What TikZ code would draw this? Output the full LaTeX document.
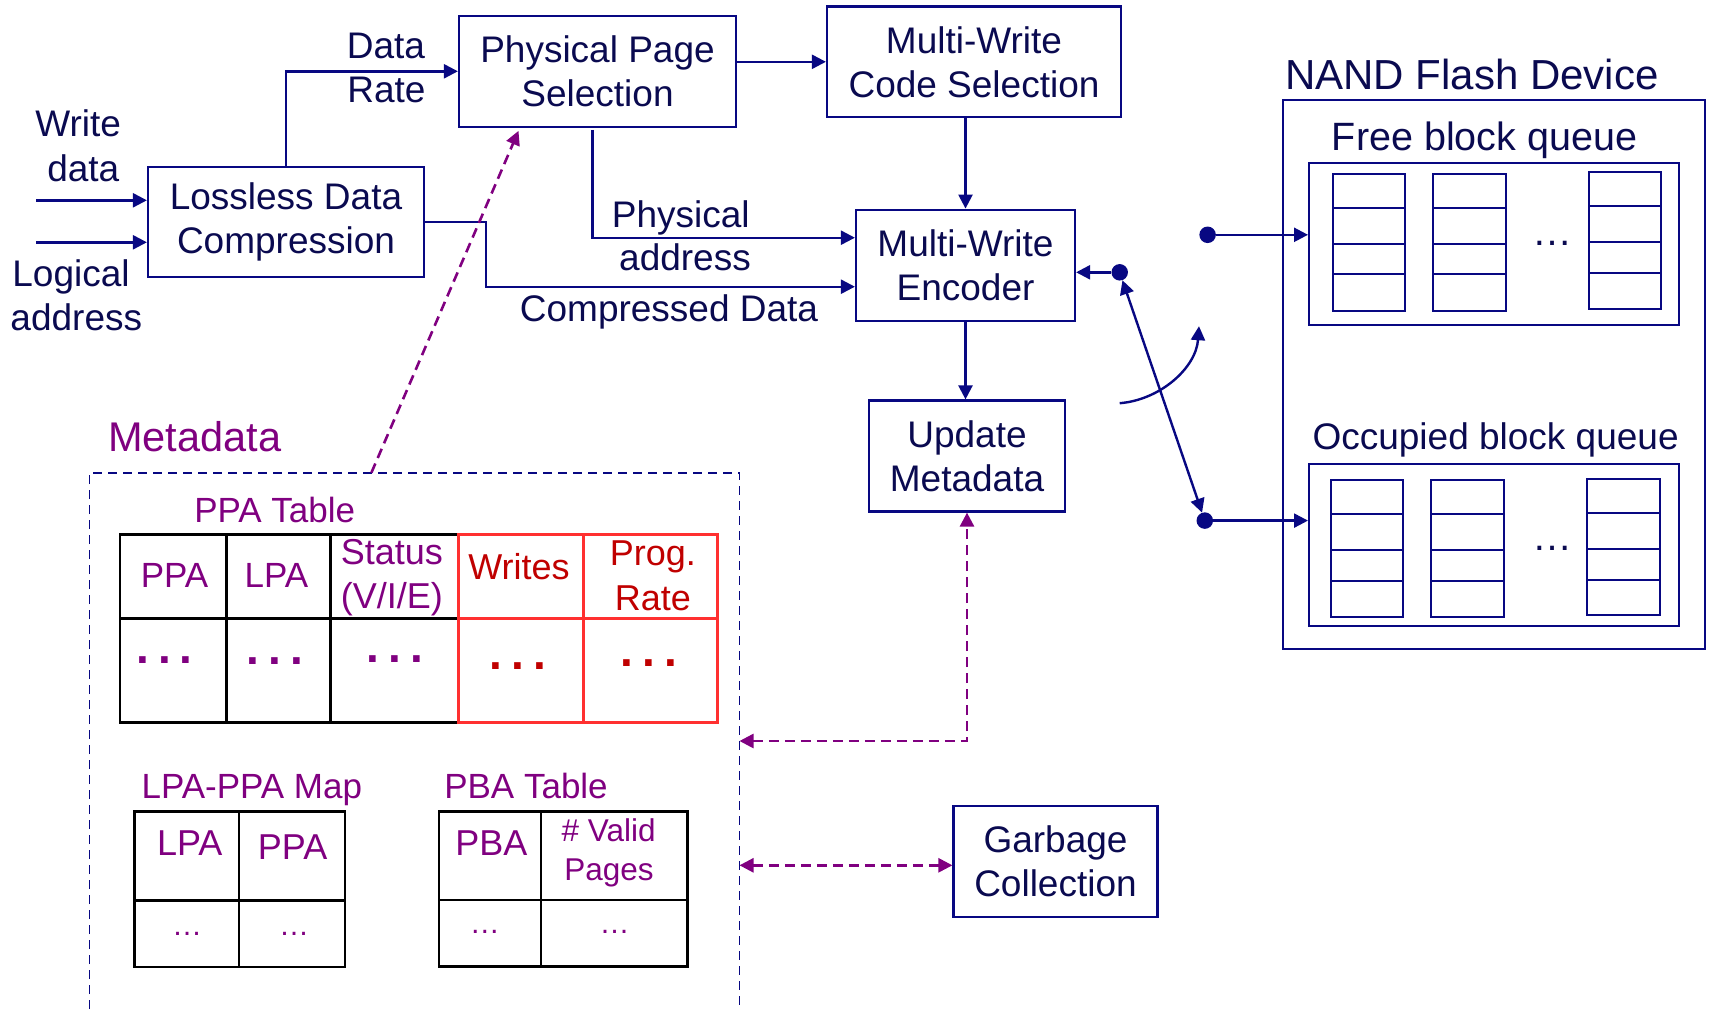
\documentclass[tikz,border=0pt]{standalone}
\usepackage{fontspec}
\setmainfont{Liberation Sans}
\usetikzlibrary{arrows.meta,calc}
\definecolor{navytext}{RGB}{10,10,80}
\definecolor{navyline}{RGB}{8,8,130}
\definecolor{mdpurple}{RGB}{128,0,128}
\definecolor{tred}{RGB}{192,0,0}
\definecolor{bred}{RGB}{255,48,48}
\newcommand\setfs[2]{\fontsize{#1}{#2}\selectfont}
\newcommand\qblock[7]{\draw[cell] (#1,#3) rectangle (#2,#4) (#1,#5) -- (#2,#5) (#1,#6) -- (#2,#6) (#1,#7) -- (#2,#7);}
\tikzset{
  box/.style={draw=navyline, line width=2.2pt, text=navytext, align=center, inner sep=0pt, font=\setfs{37}{44}},
  lbl/.style={text=navytext, inner sep=0pt, anchor=base, font=\setfs{37}{44}},
  plbl/.style={text=mdpurple, inner sep=0pt, anchor=base, font=\setfs{35}{42}},
  rlbl/.style={text=tred, inner sep=0pt, anchor=base, font=\setfs{35}{42}},
  ntip/.tip={Triangle[length=14pt,width=14pt]},
  conn/.style={draw=navyline, line width=2.4pt, -ntip},
  connboth/.style={draw=navyline, line width=2.4pt, ntip-ntip},
  pline/.style={draw=mdpurple, line width=2.6pt, dash pattern=on 10pt off 6pt},
  dotn/.style={circle, fill=navyline, inner sep=0pt, minimum size=16.5pt},
  cell/.style={draw=navyline, line width=2pt},
  tbl/.style={draw=black, line width=2.5pt},
  rtbl/.style={draw=bred, line width=3pt},
  bigdots/.style={inner sep=0pt, anchor=base, font=\setfs{46}{46}\bfseries}
}
\begin{document}
\begin{tikzpicture}[x=1pt,y=-1pt]
\useasboundingbox (0,0) rectangle (1710,1009);
% main boxes
\node[box, minimum width=276pt, minimum height=110pt] (ldc) at (286,222) {Lossless Data\\Compression};
\node[box, minimum width=277pt, minimum height=111pt] (pps) at (597.5,71.3) {Physical Page\\Selection};
\node[box, minimum width=294pt, minimum height=110.5pt] (mwcs) at (974,61.8) {Multi-Write\\Code Selection};
\node[box, minimum width=219pt, minimum height=111pt] (enc) at (965.5,265.2) {Multi-Write\\Encoder};
\node[box, minimum width=196pt, minimum height=111pt] (upd) at (967,456) {Update\\Metadata};
\node[box, minimum width=204pt, minimum height=111pt] (gc) at (1055.5,861.5) {Garbage\\Collection};
% left labels
\node[lbl] (lw1) at (78.2,136.7) {Write};
\node[lbl] (lw2) at (83.3,181) {data};
\node[lbl] (la1) at (71,286.7) {Logical};
\node[lbl] (la2) at (76.3,330) {address};
\node[lbl] (dr1) at (386,58.3) {Data};
\node[lbl] (dr2) at (386.5,102.7) {Rate};
\node[lbl] (pa1) at (680.8,227.7) {Physical};
\node[lbl] (pa2) at (685,270.7) {address};
\node[lbl] (cd) at (669,321.7) {Compressed Data};
% left connectors
\coordinate (wdin) at (36,200.3);
\coordinate (lain) at (36,242.3);
\draw[conn] (wdin) -- (wdin -| ldc.west);
\draw[conn] (lain) -- (lain -| ldc.west);
\draw[conn] (ldc.north) |- (pps.west);
\draw[conn] (pps.east |- mwcs.west) -- (mwcs.west);
\draw[conn] ([xshift=-5pt,yshift=-2pt]pps.south) |- ($(enc.west)+(0,-27.5)$);
\draw[conn] (ldc.east) -- ++(61,0) |- ($(enc.west)+(0,21.5)$);
\draw[conn] (mwcs.south -| enc.north) -- (enc.north);
\draw[conn] (enc.south) -- (enc.south |- upd.north);
% NAND device
\node[draw=navyline, line width=2pt, minimum width=422pt, minimum height=549pt, inner sep=0pt] (nand) at (1494,374.5) {};
\node[lbl, font=\setfs{42}{48}] (nandl) at (1472,89) {NAND Flash Device};
\node[lbl, font=\setfs{39.5}{46}] (fql) at (1484.5,150.7) {Free block queue};
\node[lbl, font=\setfs{37}{44}] (oql) at (1495.6,449.5) {Occupied block queue};
\node[draw=navyline, line width=2pt, minimum width=370pt, minimum height=162pt, inner sep=0pt] (fq) at (1494,244) {};
\node[draw=navyline, line width=2pt, minimum width=370pt, minimum height=162pt, inner sep=0pt] (oq) at (1494,545) {};
\qblock{1332.5}{1405}{174}{310.6}{207.5}{243.7}{274.4}
\qblock{1433}{1505.6}{174}{310.6}{207.5}{243.7}{274.4}
\qblock{1589}{1660.5}{171.7}{308.5}{205.8}{242.4}{272.7}
\qblock{1330.8}{1403.4}{480.2}{617}{513.9}{550}{581.2}
\qblock{1431}{1504}{480.2}{617}{513.9}{550}{581.2}
\qblock{1587.3}{1660}{478.5}{615.3}{512.6}{548.8}{579.5}
\node[lbl, font=\setfs{40}{44}] (fqd) at (1552,245) {…};
\node[lbl, font=\setfs{40}{44}] (oqd) at (1552,550) {…};
% switch
\node[dotn] (edot) at (1119.7,272.3) {};
\node[dotn] (fdot) at (1207.6,234.8) {};
\node[dotn] (odot) at (1204.8,520.6) {};
\draw[conn] (edot) -- (edot -| enc.east);
\draw[conn] (fdot) -- (fdot -| fq.west);
\draw[conn] (odot) -- (odot -| oq.west);
\draw[connboth] (edot) -- (odot);
\coordinate (sw1) at (1119.7,403.2);
\coordinate (sw2) at (1199,326.2);
\draw[conn] (sw1) .. controls (1160,400) and (1196,368) .. (sw2);
% metadata region
\node[plbl, font=\setfs{41.5}{48}] (mdl) at (194.8,451.7) {Metadata};
\draw[navyline, line width=1.8pt, dash pattern=on 9pt off 6pt] (89.5,1009) -- (89.5,472.7) -- (739.5,472.7) -- (739.5,1009);
\coordinate (mdtop) at (371.4,472.7);
\coordinate (mdupd) at (739.5,741);
\coordinate (mdgc) at (739.5,865.3);
\draw[pline, -{Triangle[length=14pt,width=14pt]}] (mdtop) -- ([xshift=-79pt,yshift=-3pt]pps.south);
\draw[pline, {Triangle[length=14pt,width=14pt]}-{Triangle[length=14pt,width=14pt]}] (mdupd) -| (upd.south);
\draw[pline, {Triangle[length=14pt,width=14pt]}-{Triangle[length=14pt,width=14pt]}] (mdgc) -- (mdgc -| gc.west);
% PPA table
\node[plbl] (ppat) at (274.7,522.7) {PPA Table};
\draw[tbl] (458,534.3) -- (119.9,534.3) -- (119.9,722.3) -- (458,722.3);
\draw[tbl] (119.9,618.7) -- (458,618.7) (226.6,534.3) -- (226.6,722.3) (330.7,534.3) -- (330.7,722.3);
\draw[rtbl] (458,534.3) rectangle (717.5,722.3) (458,618.7) -- (717.5,618.7) (583,534.3) -- (583,722.3);
\node[plbl] (h1) at (174.5,587) {PPA};
\node[plbl] (h2) at (276.4,587) {LPA};
\node[plbl, font=\setfs{36}{42}] (h3a) at (391.8,564.3) {Status};
\node[plbl, font=\setfs{36}{42}] (h3b) at (391.8,608.3) {(V/I/E)};
\node[rlbl, font=\setfs{36}{42}] (h4) at (519,579.3) {Writes};
\node[rlbl, font=\setfs{36}{42}] (h5a) at (652.9,565.7) {Prog.};
\node[rlbl, font=\setfs{36}{42}] (h5b) at (652.9,610.7) {Rate};
\node[bigdots, text=mdpurple] (d1) at (164.6,663) {.\hspace{9pt}.\hspace{9pt}.};
\node[bigdots, text=mdpurple] (d2) at (275,664) {.\hspace{9pt}.\hspace{9pt}.};
\node[bigdots, text=mdpurple] (d3) at (394.8,662) {.\hspace{9pt}.\hspace{9pt}.};
\node[bigdots, text=tred] (d4) at (518,669) {.\hspace{9pt}.\hspace{9pt}.};
\node[bigdots, text=tred] (d5) at (649,666) {.\hspace{9pt}.\hspace{9pt}.};
% LPA-PPA map
\node[plbl] (mapl) at (251.8,798.3) {LPA-PPA Map};
\draw[tbl] (134.7,811.7) rectangle (345.2,967) (239.2,811.7) -- (239.2,967) (134.7,900.3) -- (345.2,900.3);
\node[plbl, font=\setfs{36}{42}] (m1) at (189.8,855) {LPA};
\node[plbl, font=\setfs{36}{42}] (m2) at (292.6,859) {PPA};
\node[plbl, font=\setfs{30}{36}] (m3) at (187,935) {…};
\node[plbl, font=\setfs{30}{36}] (m4) at (294,935) {…};
% PBA table
\node[plbl] (pbal) at (526,798.3) {PBA Table};
\draw[tbl] (439.2,811.3) rectangle (687.5,966.3) (540.9,811.3) -- (540.9,966.3) (439.2,900) -- (687.5,900);
\node[plbl, font=\setfs{36}{42}] (p1) at (491.4,855) {PBA};
\node[plbl, font=\setfs{31.5}{38}] (p2a) at (608.6,841.7) {\# Valid};
\node[plbl, font=\setfs{31.5}{38}] (p2b) at (609,880) {Pages};
\node[plbl, font=\setfs{30}{36}] (p3) at (484.8,933) {…};
\node[plbl, font=\setfs{30}{36}] (p4) at (614.5,933) {…};
\end{tikzpicture}
\end{document}
